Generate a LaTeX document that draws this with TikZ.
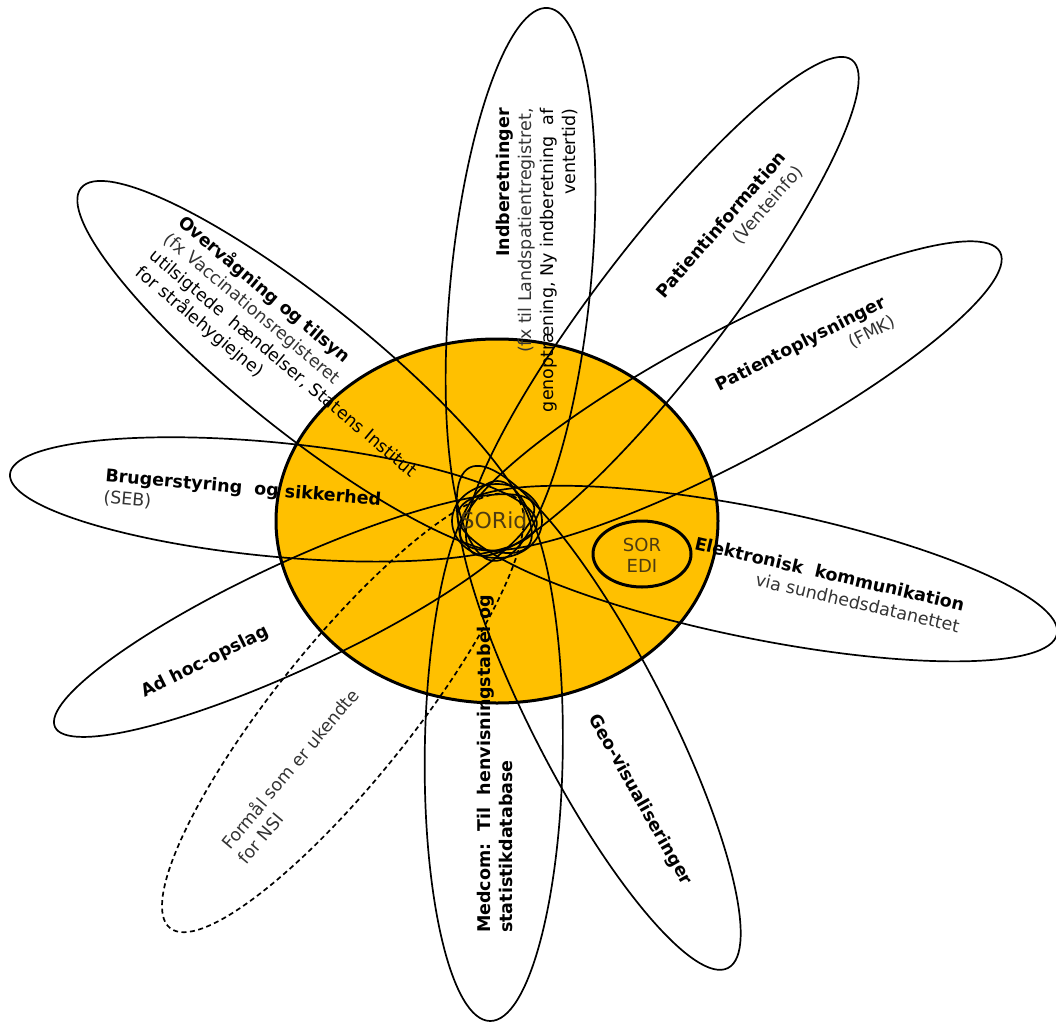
\documentclass[tikz,border=0pt]{standalone}
\usepackage{fontspec}
\setmainfont{DejaVu Sans}
\definecolor{sungold}{HTML}{FFC000}
\definecolor{txtgray}{HTML}{333333}
\definecolor{sorbrown}{HTML}{4D3B12}
\newcommand\petal[5][]{%
  \pgfmathsetmacro\pdx{497-#2}%
  \pgfmathsetmacro\pdy{521-#3}%
  \pgfmathsetmacro\pL{100*veclen(\pdx/100,\pdy/100)}%
  \pgfmathsetmacro\pux{\pdx/\pL}%
  \pgfmathsetmacro\puy{\pdy/\pL}%
  \pgfmathsetmacro\pIx{497+#4*\pux}%
  \pgfmathsetmacro\pIy{521+#4*\puy}%
  \pgfmathsetmacro\pcx{(#2+\pIx)/2}%
  \pgfmathsetmacro\pcy{(#3+\pIy)/2}%
  \pgfmathsetmacro\pa{(\pL+#4)/2}%
  \pgfmathsetmacro\pang{atan2(-\puy,\pux)}%
  \draw[petalline,rotate around={\pang:(\pcx,\pcy)},#1] (\pcx,\pcy) ellipse [x radius=\pa bp, y radius=#5 bp];%
}
\begin{document}
\begin{tikzpicture}[x=1bp,y=-1bp,
  petalline/.style={line width=1.7bp, black},
  lbl/.style={font=\fontsize{17.5bp}{22bp}\selectfont, inner sep=0pt, text=black},
  sortxt/.style={font=\fontsize{18bp}{21bp}\selectfont, inner sep=0pt, text=sorbrown, align=center}]
\useasboundingbox (0,0) rectangle (1056,1023);
\clip (0,0) rectangle (1056,1023);
% central disc
\fill[sungold] (497,521) ellipse [x radius=221bp, y radius=182bp];
% petals
\petal{548}{8}{40}{70}
\petal{852}{60}{40}{64}
\petal{1000}{252}{40}{64}
\petal{1057}{634}{40}{65}
\petal{728}{968}{60}{66}
\petal{490}{1021}{40}{69}
\petal[dash pattern=on 5bp off 3.5bp]{170}{928}{30}{68}
\petal{55}{727}{40}{53}
\petal{10}{474}{40}{57}
\petal{81}{188}{40}{65}
% disc border
\draw[line width=3bp] (497,521) ellipse [x radius=221bp, y radius=182bp];
% SORid
\draw[petalline] (497,521) ellipse [x radius=45bp, y radius=37bp];
\node[sortxt, font=\fontsize{22bp}{24bp}\selectfont] (sorid) at (494,520) {SORid};
% SOR EDI
\draw[line width=3bp] (642,554) ellipse [x radius=49bp, y radius=33bp];
\node[sortxt] (soredi) at (642,555) {SOR\\EDI};
% labels
\node[lbl, rotate=90, align=right, anchor=east] (indb) at (537,108)
  {\textbf{Indberetninger}\\\color{txtgray}(fx til Landspatientregistret,\\genoptræning, Ny indberetning\ \ af\\ventertid)};
\node[lbl, rotate=-40, align=left, anchor=north west] (overv) at (187,212)
  {\textbf{Overvågning og tilsyn}\\\color{txtgray}(fx Vaccinationsregisteret\\utilsigtede\ \ hændelser, Statens Institut\\for strålehygiejne)};
\node[lbl, rotate=49, align=right, anchor=north east] (pinfo) at (777,149)
  {\textbf{Patientinformation}\\\color{txtgray}(Venteinfo)};
\node[lbl, rotate=27, align=right, anchor=north east] (popl) at (881,294)
  {\textbf{Patientoplysninger}\\\color{txtgray}(FMK)};
\node[lbl, rotate=-5, align=left, anchor=north west] (brug) at (106,468)
  {\textbf{Brugerstyring\ \ og sikkerhed}\\\color{txtgray}(SEB)};
\node[lbl, rotate=-13, align=right, anchor=north east] (elek) at (966,598)
  {\textbf{Elektronisk\ \ kommunikation}\\\color{txtgray}via sundhedsdatanettet};
\node[lbl, rotate=26.4] (adhoc) at (205,662) {\textbf{Ad hoc-opslag}};
\node[lbl, rotate=50, align=left, anchor=north west, text=txtgray] (formaal) at (218,841)
  {Formål som er ukendte\\for NSI};
\node[lbl, rotate=90, align=left, anchor=north west] (medcom) at (477,933)
  {\textbf{Medcom:\ \ Til\ \ henvisningstabel og}\\\textbf{statistikdatabase}};
\node[lbl, rotate=-60.5] (geo) at (640,800) {\textbf{Geo-visualiseringer}};
\end{tikzpicture}
\end{document}
